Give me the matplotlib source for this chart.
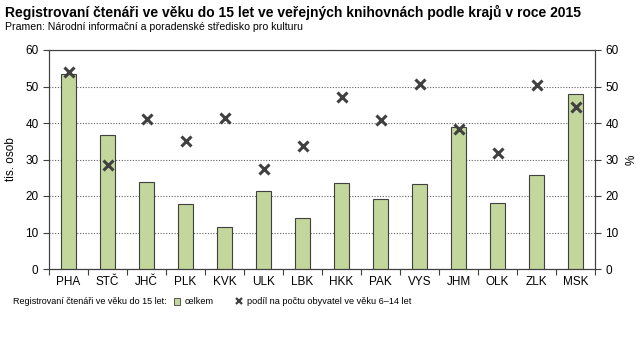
import numpy as np
import matplotlib.pyplot as plt
from matplotlib.lines import Line2D
from matplotlib.patches import Patch

# data
kraje = ['PHA', 'STČ', 'JHČ', 'PLK', 'KVK', 'ULK', 'LBK',
         'HKK', 'PAK', 'VYS', 'JHM', 'OLK', 'ZLK', 'MSK']
celkem = [53.4, 36.6, 23.7, 17.7, 11.4, 21.5, 13.9,
          23.5, 19.1, 23.2, 38.8, 18.0, 25.7, 47.9]
podil = [54.0, 28.4, 41.1, 35.2, 41.5, 27.4, 33.7,
         47.2, 40.9, 50.8, 38.4, 31.9, 50.5, 44.4]

plt.rcParams['font.family'] = ['Liberation Sans', 'DejaVu Sans']

fig = plt.figure(figsize=(6.43, 3.39), dpi=100)
ax = fig.add_axes([49/643, 1 - 269/339, (595 - 49)/643, (269 - 50)/339])

x = np.arange(len(kraje))
ax.bar(x, celkem, width=0.4, color='#c3d69b', edgecolor='#404040', lw=0.8, zorder=3)

ax2 = ax.twinx()
ax2.plot(x, podil, lw=0, marker='x', ms=7, mew=2.2, color='#404040', zorder=4)

for a in (ax, ax2):
    a.set_ylim(0, 60)
    a.set_yticks(range(0, 61, 10))
    a.tick_params(axis='y', labelsize=8.5, length=4, width=0.8, colors='#404040', labelcolor='black')
ax.set_xlim(-0.5, len(kraje) - 0.5)
ax.set_xticks(x)
ax.set_xticklabels(kraje, fontsize=8.5)
ax.tick_params(axis='x', which='major', length=0, pad=5)
ax.set_xticks(np.arange(-0.5, len(kraje)), minor=True)
ax.tick_params(axis='x', which='minor', length=4, width=0.8, color='#404040')

ax.yaxis.grid(True, linestyle=(0, (1, 1.5)), color='#606060', lw=0.8, zorder=0)
ax.set_axisbelow(True)
for a in (ax, ax2):
    for s in a.spines.values():
        s.set_color('#404040')
        s.set_linewidth(0.8)

ax.set_ylabel('tis. osob', fontsize=8.5, labelpad=6)
ax2.set_ylabel('%', fontsize=8.5, labelpad=5)

fig.text(5/643, 1 - 12/339, 'Registrovaní čtenáři ve věku do 15 let ve veřejných knihovnách podle krajů v roce 2015',
         fontsize=10, fontweight='bold', va='center')
fig.text(5/643, 1 - 27/339, 'Pramen: Národní informační a poradenské středisko pro kulturu',
         fontsize=7.6, va='center')

fig.text(13/643, 1 - 302/339, 'Registrovaní čtenáři ve věku do 15 let:', fontsize=6.5, va='center')
handles = [Patch(facecolor='#c3d69b', edgecolor='#404040', lw=0.6, label='celkem'),
           Line2D([], [], lw=0, marker='x', ms=4.5, mew=1.6, color='#404040',
                  label='podíl na počtu obyvatel ve věku 6–14 let')]
fig.legend(handles=handles, loc='center left', bbox_to_anchor=(169/643, 1 - 302/339),
           ncol=2, frameon=False, fontsize=6.6, handlelength=0.7, handleheight=0.7,
           handletextpad=0.5, columnspacing=2.4, borderpad=0)

plt.savefig('out.png', dpi=100)
